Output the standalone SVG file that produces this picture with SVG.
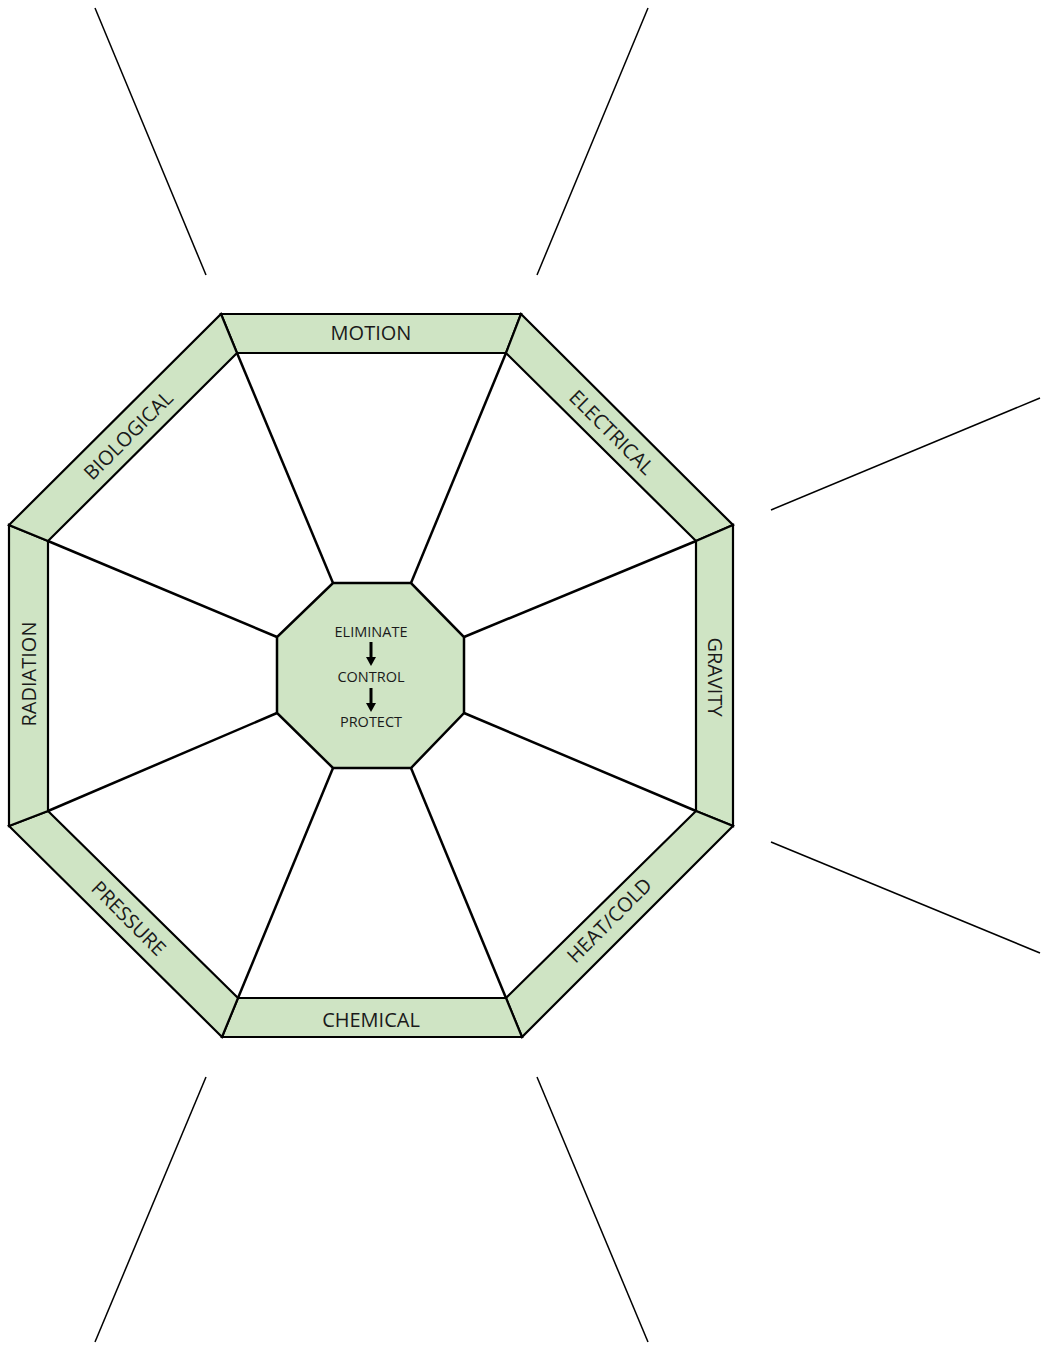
<svg xmlns="http://www.w3.org/2000/svg" width="1045" height="1348" viewBox="0 0 1045 1348">
<style>
.band{fill:#cfe4c4;stroke:#000;stroke-width:2.2;stroke-linejoin:miter}
.center{fill:#cfe4c4;stroke:#000;stroke-width:2.5}
.spoke{stroke:#000;stroke-width:2.5;fill:none}
.ray{stroke:#000;stroke-width:1.5;fill:none}
.lbl{font-family:"Open Sans","Liberation Sans",sans-serif;font-size:20px;fill:#1a1a1a;text-anchor:middle;dominant-baseline:central}
.cl{font-family:"Open Sans","Liberation Sans",sans-serif;font-size:14.5px;fill:#1a1a1a;text-anchor:middle;dominant-baseline:central}
.ash{stroke:#000;stroke-width:3}
</style>
<defs>
<path id="ahd" d="M-5,0 L5,0 L0,9 Z" fill="#000"/>
</defs>
<rect width="1045" height="1348" fill="#fff"/>
<g id="connectors">
<line class="ray" x1="95" y1="8" x2="206" y2="275"/>
<line class="ray" x1="648" y1="8" x2="537" y2="275"/>
<line class="ray" x1="1040" y1="398" x2="771" y2="510"/>
<line class="ray" x1="771" y1="842" x2="1040" y2="953"/>
<line class="ray" x1="206" y1="1077" x2="95" y2="1342"/>
<line class="ray" x1="537" y1="1077" x2="648" y2="1342"/>
<line class="spoke" x1="237" y1="353" x2="333" y2="583"/>
<line class="spoke" x1="506" y1="353" x2="411" y2="583"/>
<line class="spoke" x1="696" y1="541" x2="464" y2="637"/>
<line class="spoke" x1="696" y1="811" x2="464" y2="713"/>
<line class="spoke" x1="506" y1="998" x2="411" y2="768"/>
<line class="spoke" x1="238" y1="998" x2="333" y2="768"/>
<line class="spoke" x1="48" y1="811" x2="277" y2="713"/>
<line class="spoke" x1="48" y1="541" x2="277" y2="637"/>
</g>
<g id="motion">
<polygon class="band" points="221,314 521,314 506,353 237,353"/>
<text class="lbl" x="371" y="332">MOTION</text>
</g>
<g id="electrical">
<polygon class="band" points="521,314 733,525 696,541 506,353"/>
<text class="lbl" transform="translate(612,432) rotate(45)">ELECTRICAL</text>
</g>
<g id="gravity">
<polygon class="band" points="733,525 733,826 696,811 696,541"/>
<text class="lbl" transform="translate(715,677) rotate(90)">GRAVITY</text>
</g>
<g id="heat-cold">
<polygon class="band" points="733,826 522,1037 506,998 696,811"/>
<text class="lbl" transform="translate(609,920) rotate(-45)">HEAT/COLD</text>
</g>
<g id="chemical">
<polygon class="band" points="522,1037 222,1037 238,998 506,998"/>
<text class="lbl" x="371" y="1019">CHEMICAL</text>
</g>
<g id="pressure">
<polygon class="band" points="222,1037 9,826 48,811 238,998"/>
<text class="lbl" transform="translate(129,918) rotate(45)">PRESSURE</text>
</g>
<g id="radiation">
<polygon class="band" points="9,826 9,525 48,541 48,811"/>
<text class="lbl" transform="translate(28,674) rotate(-90)">RADIATION</text>
</g>
<g id="biological">
<polygon class="band" points="9,525 221,314 237,353 48,541"/>
<text class="lbl" transform="translate(128,435) rotate(-45)">BIOLOGICAL</text>
</g>
<g id="center">
<polygon class="center" points="333,583 411,583 464,637 464,713 411,768 333,768 277,713 277,637"/>
<text class="cl" x="371" y="631">ELIMINATE</text>
<line class="ash" x1="371" y1="642" x2="371" y2="658"/>
<use href="#ahd" x="371" y="657"/>
<text class="cl" x="371" y="676">CONTROL</text>
<line class="ash" x1="371" y1="688" x2="371" y2="704"/>
<use href="#ahd" x="371" y="703"/>
<text class="cl" x="371" y="721">PROTECT</text>
</g>
</svg>
